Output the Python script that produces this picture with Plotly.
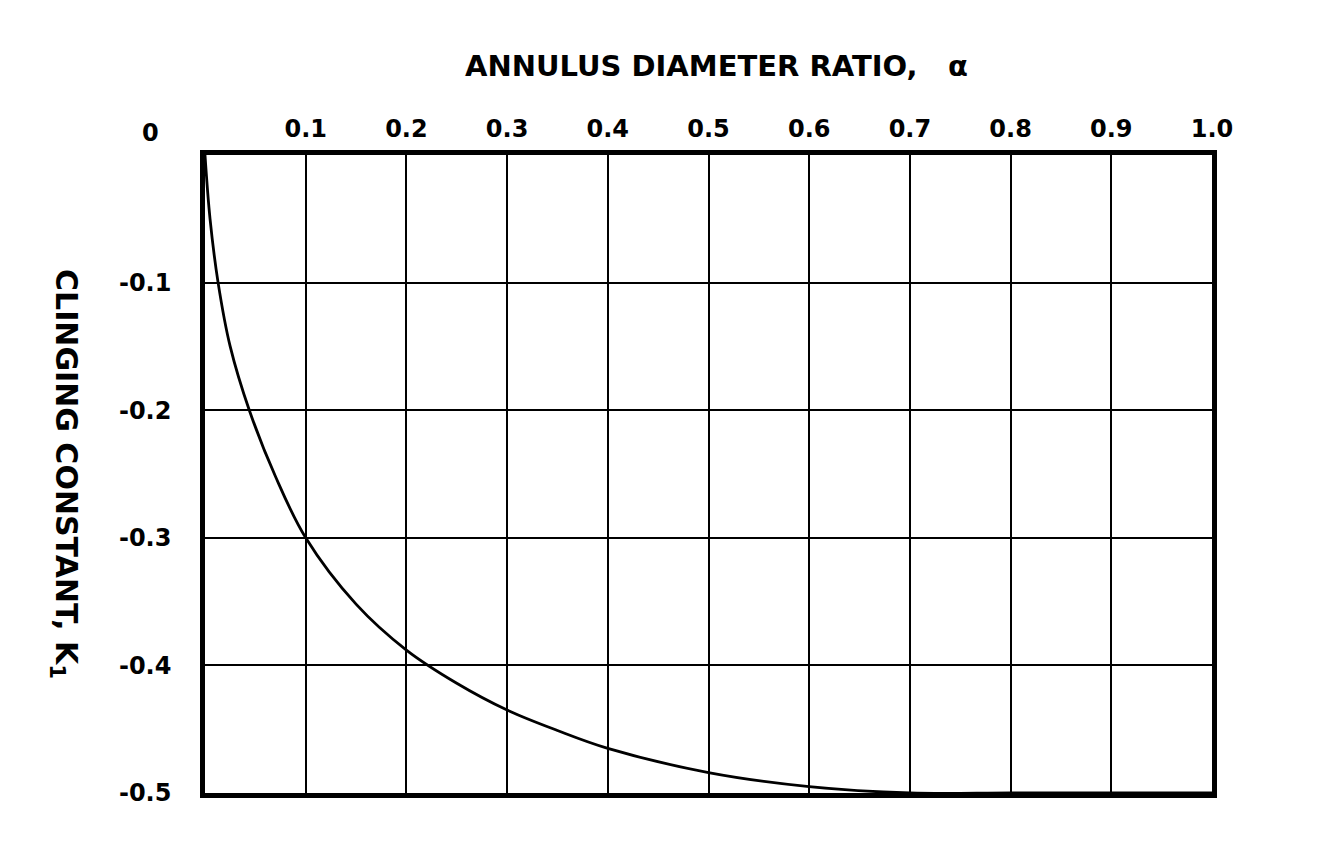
import plotly.graph_objects as go

# Data
alpha = [0, 0.005, 0.013, 0.025, 0.044, 0.07, 0.10, 0.15, 0.20, 0.25, 0.30, 0.35,
         0.40, 0.50, 0.60, 0.70, 0.80, 0.90, 1.0]
k1 = [0, -0.050, -0.100, -0.150, -0.200, -0.252, -0.300, -0.352, -0.388, -0.414, -0.435, -0.451,
      -0.465, -0.484, -0.495, -0.500, -0.500, -0.500, -0.500]

x_ticks = [0.1, 0.2, 0.3, 0.4, 0.5, 0.6, 0.7, 0.8, 0.9, 1.0]
x_labels = ["0.1", "0.2", "0.3", "0.4", "0.5", "0.6", "0.7", "0.8", "0.9", "1.0"]
y_ticks = [-0.1, -0.2, -0.3, -0.4, -0.5]
y_labels = ["-0.1", "-0.2", "-0.3", "-0.4", "-0.5"]
origin_label = "0"

x_title = "<b>ANNULUS DIAMETER RATIO,   α</b>"
y_title = "<b>CLINGING CONSTANT, K<sub>1</sub></b>"

FONT = "DejaVu Sans, Liberation Sans, sans-serif"
TICKFONT = dict(family=FONT, size=24, color="black", weight="bold")

fig = go.Figure()
fig.add_trace(go.Scatter(
    x=alpha, y=k1, mode="lines",
    line=dict(color="black", width=2.8, shape="spline", smoothing=1.0),
    showlegend=False, hoverinfo="skip",
))

fig.update_layout(
    width=1344, height=864,
    margin=dict(l=205, r=132, t=155, b=71),
    paper_bgcolor="white", plot_bgcolor="white",
    font=dict(family=FONT, color="black", size=24),
    xaxis=dict(
        range=[0, 1.0], side="top",
        tickvals=x_ticks, ticktext=x_labels,
        showgrid=True, gridcolor="black", gridwidth=2.2,
        showline=True, linecolor="black", linewidth=4.5, mirror=True,
        ticks="", ticklabelstandoff=4, zeroline=False,
        tickfont=TICKFONT,
    ),
    yaxis=dict(
        range=[-0.5, 0],
        tickvals=y_ticks, ticktext=y_labels,
        showgrid=True, gridcolor="black", gridwidth=2.2,
        showline=True, linecolor="black", linewidth=4.5, mirror=True,
        ticks="", ticklabelstandoff=24, zeroline=False,
        tickfont=TICKFONT,
    ),
    annotations=[
        dict(text=x_title, xref="paper", yref="paper", x=0.508, y=1.0, yshift=89,
             showarrow=False, xanchor="center", yanchor="middle",
             font=dict(family=FONT, size=29, color="black")),
        dict(text="<b>" + origin_label + "</b>", xref="paper", yref="paper", x=0, y=1.0, xshift=-55, yshift=22,
             showarrow=False, xanchor="center", yanchor="middle",
             font=TICKFONT),
        dict(text=y_title, xref="paper", yref="paper", x=0, y=0.50, xshift=-140,
             showarrow=False, textangle=90, xanchor="center", yanchor="middle",
             font=dict(family=FONT, size=30, color="black")),
    ],
)

fig.write_html("out.html")
